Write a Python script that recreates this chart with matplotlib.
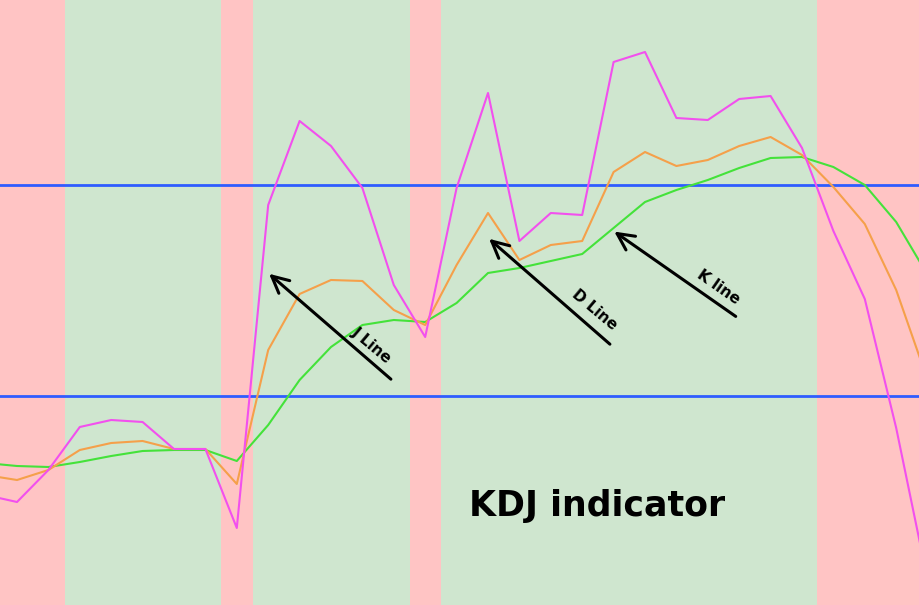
import numpy as np
import matplotlib.pyplot as plt

# values (pixel-space heights, 0 = bottom)
idx = list(range(-1, 30))
j_line = [110, 103, 135, 178, 185, 183, 156, 156, 77, 400, 484, 459, 417, 320, 268, 417, 512, 364, 392, 390, 543, 553, 487, 485, 506, 509, 457, 374, 306, 177, 25]
d_line = [130, 125, 135, 155, 162, 164, 156, 156, 121, 255, 311, 325, 324, 295, 280, 340, 392, 345, 360, 364, 433, 453, 439, 445, 459, 468, 450, 418, 381, 315, 225]
k_line = [142, 139, 138, 143, 149, 154, 155, 155, 144, 180, 225, 258, 280, 285, 283, 302, 332, 337, 344, 351, 377, 403, 415, 425, 437, 447, 448, 438, 420, 383, 330]
levels = [420, 209]
band_edges = [0, 65, 221, 253, 410, 441, 817, 920]  # px
band_cols = ['#ffc4c4', '#cfe6cf'] * 4

def px(v):
    return (v - 17) / 31.4

fig = plt.figure(figsize=(9.2, 6.05), dpi=100)
ax = fig.add_axes([0, 0, 1, 1])
ax.set_xlim(px(0), px(920))
ax.set_ylim(0, 605)
ax.axis('off')

for i in range(len(band_edges) - 1):
    ax.axvspan(px(band_edges[i]), px(band_edges[i + 1]), color=band_cols[i], lw=0)

for lv in levels:
    ax.axhline(lv, color='#2f5cff', lw=2)

ax.plot(idx, k_line, color='#44e23a', lw=1.5)
ax.plot(idx, d_line, color='#f5a04a', lw=1.5)
ax.plot(idx, j_line, color='#f250ee', lw=1.5)

arrows = [((393, 381), (267, 272)), ((612, 346), (487, 237)), ((738, 318), (612, 230))]
for (x0, y0), (x1, y1) in arrows:
    ax.annotate('', xy=(px(x1), 605 - y1), xytext=(px(x0), 605 - y0),
                arrowprops=dict(arrowstyle='->,head_length=1.2,head_width=0.6', lw=2.2, color='black'))

for t, x, y, r in [('J Line', 372, 345, -40), ('D Line', 595, 310, -40), ('K line', 718, 287, -35)]:
    ax.text(px(x), 605 - y, t, rotation=r, ha='center', va='center', fontsize=11, fontweight='bold')

ax.text(px(597), 605 - 506, 'KDJ indicator', ha='center', va='center', fontsize=25, fontweight='bold')

fig.savefig('out.png', dpi=100)
